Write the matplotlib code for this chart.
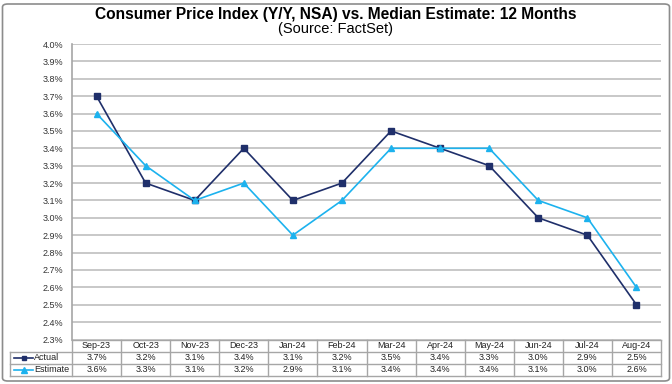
import numpy as np
import matplotlib.pyplot as plt
from matplotlib.patches import FancyBboxPatch

plt.rcParams['font.family'] = ['Liberation Sans', 'DejaVu Sans']

months = ['Sep-23', 'Oct-23', 'Nov-23', 'Dec-23', 'Jan-24', 'Feb-24',
          'Mar-24', 'Apr-24', 'May-24', 'Jun-24', 'Jul-24', 'Aug-24']
actual = [3.7, 3.2, 3.1, 3.4, 3.1, 3.2, 3.5, 3.4, 3.3, 3.0, 2.9, 2.5]
estimate = [3.6, 3.3, 3.1, 3.2, 2.9, 3.1, 3.4, 3.4, 3.4, 3.1, 3.0, 2.6]
y_ticks = [2.3, 2.4, 2.5, 2.6, 2.7, 2.8, 2.9, 3.0, 3.1, 3.2, 3.3, 3.4,
           3.5, 3.6, 3.7, 3.8, 3.9, 4.0]

c_act = '#1F2F6A'
c_est = '#1CB2EE'
c_grid = '#BFBFBF'
W, H = 672, 384

fig = plt.figure(figsize=(W / 100, H / 100), dpi=100)

# outer frame
fig.patches.append(FancyBboxPatch((2.5 / W, 3 / H), (W - 5) / W, (H - 7) / H,
                                  boxstyle='round,pad=0,rounding_size=0.008',
                                  transform=fig.transFigure, fill=False,
                                  edgecolor='#8C8C8C', linewidth=1.2))

fig.text(0.5, 1 - 15 / H, 'Consumer Price Index (Y/Y, NSA) vs. Median Estimate: 12 Months',
         ha='center', va='center', fontsize=11.2, fontweight='bold')
fig.text(0.5, 1 - 29 / H, '(Source: FactSet)', ha='center', va='center', fontsize=10.5)

# main plot
x0, x1, ytop, ybot = 72, 661, 44, 339.5
ax = fig.add_axes([x0 / W, 1 - ybot / H, (x1 - x0) / W, (ybot - ytop) / H])
x = np.arange(len(months))
ax.plot(x, actual, color=c_act, lw=1.2, marker='s', ms=4, zorder=3)
ax.plot(x, estimate, color=c_est, lw=1.2, marker='^', ms=4.5, zorder=3)
ax.set_xlim(-0.5, len(months) - 0.5)
ax.set_ylim(2.3, 4.0)
ax.set_yticks(y_ticks)
ax.set_yticklabels(['%.1f%%' % v for v in y_ticks])
ax.set_xticks([])
ax.tick_params(axis='y', length=0, pad=6, labelsize=6.5, labelcolor='#333333')
ax.grid(axis='y', color=c_grid, lw=1.2)
ax.set_axisbelow(True)
for s in ['top', 'right', 'bottom']:
    ax.spines[s].set_visible(False)
ax.spines['left'].set_color('#A6A6A6')
ax.spines['left'].set_linewidth(1.2)

# data table
col_w = (x1 - x0) / len(months)
leg_left = 10
tb_top, tb_bot = 339.5, 375.5
tx = fig.add_axes([leg_left / W, 1 - tb_bot / H, (x1 - leg_left) / W, (tb_bot - tb_top) / H])
xl = -0.5 - (x0 - leg_left) / col_w
tx.set_xlim(xl, len(months) - 0.5)
tx.set_ylim(3, 0)
tx.axis('off')
lc = '#A6A6A6'
for r in [0, 1, 2, 3]:
    tx.plot([xl if r > 0 else -0.5, len(months) - 0.5], [r, r], color=lc, lw=1, clip_on=False)
for c in range(len(months) + 1):
    tx.plot([c - 0.5, c - 0.5], [0, 3], color=lc, lw=1, clip_on=False)
tx.plot([xl, xl], [1, 3], color=lc, lw=1, clip_on=False)

ts = 6.5
for i, m in enumerate(months):
    tx.text(i, 0.5, m, ha='center', va='center', fontsize=ts, color='#222222')
    tx.text(i, 1.5, '%.1f%%' % actual[i], ha='center', va='center', fontsize=ts, color='#222222')
    tx.text(i, 2.5, '%.1f%%' % estimate[i], ha='center', va='center', fontsize=ts, color='#222222')

for r, lab, col, mk, ms in [(1.5, 'Actual', c_act, 's', 3.5), (2.5, 'Estimate', c_est, '^', 4)]:
    k0 = xl + 4 / col_w
    k1 = xl + 23 / col_w
    tx.plot([k0, k1], [r, r], color=col, lw=1.2, clip_on=False)
    tx.plot([(k0 + k1) / 2], [r], color=col, marker=mk, ms=ms, clip_on=False)
    tx.text(xl + 24 / col_w, r, lab, ha='left', va='center', fontsize=ts, color='#222222')

fig.savefig('out.png', dpi=100)
